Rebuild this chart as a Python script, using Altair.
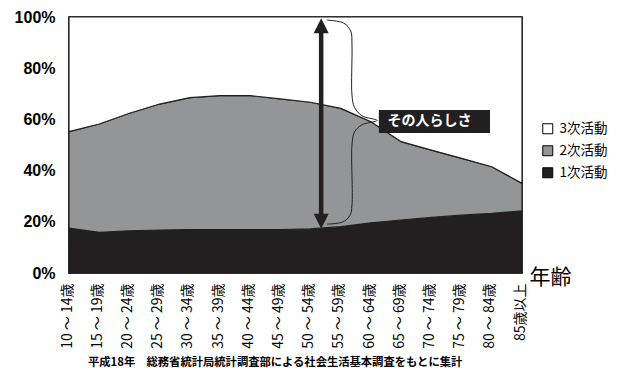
import json
import altair as alt
import pandas as pd

# ---- data ----
ages = ["10～14歳", "15～19歳", "20～24歳", "25～29歳", "30～34歳", "35～39歳",
        "40～44歳", "45～49歳", "50～54歳", "55～59歳", "60～64歳", "65～69歳",
        "70～74歳", "75～79歳", "80～84歳", "85歳以上"]
series_names = ["3次活動", "2次活動", "1次活動"]
primary = [17.5, 15.9, 16.5, 16.8, 17.0, 17.0, 17.0, 17.0, 17.2, 18.1, 19.6, 20.7, 21.7, 22.6, 23.3, 24.3]
secondary = [37.7, 42.3, 45.9, 49.2, 51.5, 52.3, 52.3, 51.0, 49.5, 46.2, 39.5, 30.6, 26.3, 22.2, 18.2, 10.7]
tertiary = [44.8, 41.8, 37.6, 34.0, 31.5, 30.7, 30.7, 32.0, 33.3, 35.7, 40.9, 48.7, 52.0, 55.2, 58.5, 65.0]
y_ticks = [0, 20, 40, 60, 80, 100]

footer = "平成18年　総務省統計局統計調査部による社会生活基本調査をもとに集計"
label_text = "その人らしさ"

# annotation geometry (index / percent units)
arrow_x = 8.35
arrow_bottom = 17.3
arrow_top = 99.5
brace_x = [8.54, 9.1, 9.33, 9.37, 9.37, 9.45, 9.7, 10.2, 9.7, 9.45, 9.37, 9.37, 9.3, 9.05, 8.54]
brace_y = [98.8, 97.6, 94.5, 89.0, 69.5, 64.8, 61.4, 59.6, 57.9, 55.0, 50.0, 26.5, 22.4, 19.9, 19.1]
box = {"x": 10.26, "x2": 13.94, "y": 63.7, "y2": 54.7}

BLACK = "#231f20"
GRAY = "#949598"
FONT = "Noto Sans CJK JP"

rows = []
for i in range(len(ages)):
    rows.append({"i": i, "s": "1次活動", "v": primary[i], "o": 0})
    rows.append({"i": i, "s": "2次活動", "v": secondary[i], "o": 1})
    rows.append({"i": i, "s": "3次活動", "v": tertiary[i], "o": 2})
df = pd.DataFrame(rows)

label_expr = ("replace(" + json.dumps(ages, ensure_ascii=False)
              + "[datum.value], '～', ' ～ ')")

x_scale = alt.Scale(domain=[0, len(ages) - 1], nice=False, zero=False)
x_axis = alt.Axis(values=list(range(len(ages))), labelExpr=label_expr,
                  labelAngle=270, labelFont=FONT, labelFontSize=14,
                  labelColor="black", labelPadding=10, labelOffset=-2,
                  labelOverlap=False, labelBound=False, labelFlush=False,
                  ticks=False, domain=False, grid=False,
                  title="年齢", titleFont=FONT, titleFontSize=21,
                  titleFontWeight="normal", titleColor="black",
                  titleAngle=0, titleAlign="left", titleBaseline="middle",
                  titleX=460, titleY=4)
y_scale = alt.Scale(domain=[0, 100], nice=False)
y_axis = alt.Axis(values=y_ticks, labelExpr="datum.value + '%'",
                  labelFont="Liberation Sans", labelFontSize=16,
                  labelFontWeight="bold", labelColor="black",
                  labelPadding=14, ticks=False, grid=False,
                  domainColor="black", domainWidth=1.5, title=None)


def X(field):
    return alt.X(field, scale=x_scale, axis=x_axis)


def Y(field):
    return alt.Y(field, scale=y_scale, axis=y_axis)


area = alt.Chart(df).transform_stack(
    stack="v", groupby=["i"], as_=["y0", "y1"],
    sort=[alt.SortField("o", order="ascending")]
).mark_area(stroke=BLACK, strokeWidth=1.2, interpolate="linear").encode(
    x=X("i:Q"),
    y=Y("y1:Q"),
    y2="y0:Q",
    color=alt.Color("s:N",
                    scale=alt.Scale(domain=series_names, range=["white", GRAY, BLACK]),
                    legend=alt.Legend(title=None, orient="none", legendX=472, legendY=105,
                                      symbolType="square", symbolSize=100,
                                      symbolStrokeColor="black", symbolStrokeWidth=1,
                                      labelFont=FONT, labelFontSize=13.5,
                                      labelColor="black", rowPadding=7, labelOffset=5)),
)

arrow_df = pd.DataFrame({"x": [arrow_x], "y": [arrow_bottom + 3], "y2": [arrow_top - 3]})
arrow = alt.Chart(arrow_df).mark_rule(color=BLACK, strokeWidth=4.5).encode(
    x=X("x:Q"), y=Y("y:Q"), y2="y2:Q")

heads_df = pd.DataFrame({
    "x": [arrow_x, arrow_x],
    "y": [arrow_top - 2.9, arrow_bottom + 2.9],
    "shape": ["M0,-1L1,1L-1,1Z", "M0,1L1,-1L-1,-1Z"],
})
heads = alt.Chart(heads_df).mark_point(filled=True, color=BLACK, size=225, opacity=1).encode(
    x=X("x:Q"), y=Y("y:Q"),
    shape=alt.Shape("shape:N", scale=None))

brace_df = pd.DataFrame({"x": brace_x, "y": brace_y, "k": list(range(len(brace_x)))})
brace = alt.Chart(brace_df).mark_line(color=BLACK, strokeWidth=1, interpolate="catmull-rom").encode(
    x=X("x:Q"), y=Y("y:Q"), order="k:Q")

box_df = pd.DataFrame([box])
box_rect = alt.Chart(box_df).mark_rect(color=BLACK).encode(
    x=X("x:Q"), x2="x2:Q", y=Y("y:Q"), y2="y2:Q")

txt_df = pd.DataFrame({"x": [10.55], "y": [59.3], "t": [label_text]})
box_text = alt.Chart(txt_df).mark_text(color="white", font=FONT, fontSize=14,
                                       fontWeight="bold", align="left", baseline="middle").encode(
    x=X("x:Q"), y=Y("y:Q"), text="t:N")

foot_df = pd.DataFrame({"t": [footer]})
foot = alt.Chart(foot_df).mark_text(font=FONT, fontSize=11.3, fontWeight="bold", color="black",
                                    align="left", baseline="middle").encode(
    x=alt.value(19), y=alt.value(346), text="t:N")

chart = alt.layer(area, arrow, heads, brace, box_rect, box_text, foot).properties(
    width=453, height=256,
    autosize=alt.AutoSizeParams(type="none"),
    padding={"left": 69, "top": 17, "right": 95, "bottom": 97},
    background="white",
).configure_view(stroke="black", strokeWidth=1.5)

chart.save("out.html", embed_options={"renderer": "svg", "actions": False})
